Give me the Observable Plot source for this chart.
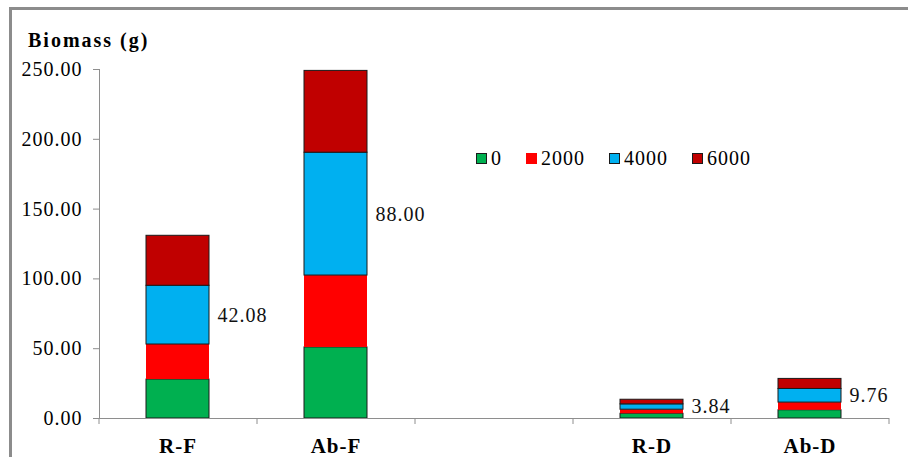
<!DOCTYPE html>
<html>
<head>
<meta charset="utf-8">
<script src="https://cdn.jsdelivr.net/npm/d3@7"></script>
<script src="https://cdn.jsdelivr.net/npm/@observablehq/plot@0.6"></script>
<style>
  html, body { margin: 0; padding: 0; background: #fff; overflow: hidden; }
  #wrap { position: relative; width: 908px; height: 457px; overflow: hidden; font-family: "Liberation Serif", serif; color: #000; }
  #border { position: absolute; left: 9px; top: 7px; width: 1200px; height: 1200px;
            border-left: 3px solid #8c8c8c; border-top: 3px solid #8c8c8c; }
  #chart { position: absolute; left: 0; top: 0; }
  #title { position: absolute; left: 28px; top: 30px; font-size: 20px; font-weight: bold;
           line-height: 1; letter-spacing: 2px; }
  #legend { position: absolute; left: 476px; top: 148px; display: flex; align-items: center;
            font-size: 20px; line-height: 20px; letter-spacing: 1px; }
  .item { display: flex; align-items: center; margin-right: 24px; }
  .sw { width: 11px; height: 11px; box-sizing: border-box; margin-right: 4px; }
</style>
</head>
<body>
<div id="wrap">
  <div id="border"></div>
  <div id="chart"></div>
  <div id="title">Biomass (g)</div>
  <div id="legend"></div>
</div>
<script>
// Categories along the x axis (one empty slot separates the F and D groups)
const categories = ["R-F", "Ab-F", "", "R-D", "Ab-D"];
const sites = ["R-F", "Ab-F", "R-D", "Ab-D"];

// Dose series (stack order bottom to top)
const doses = ["0", "2000", "4000", "6000"];
const dose0    = [27.9, 50.9, 3.4, 5.9];
const dose2000 = [25.1, 51.5, 2.9, 5.5];
const dose4000 = [42.08, 88.00, 3.84, 9.76];
const dose6000 = [35.8, 58.6, 3.3, 7.2];
const doseColors = ["#00b050", "#ff0000", "#00b0f0", "#c00000"];
const outlined = [true, false, true, true];

// Series whose values are printed beside the bars
const labelledDose = "4000";

// Y axis ticks
const yTicks = [0, 50, 100, 150, 200, 250];

const seriesValues = [dose0, dose2000, dose4000, dose6000];
const rows = sites.flatMap((site, i) =>
  doses.map((dose, j) => ({site, dose, value: seriesValues[j][i]}))
);

const axisColor = "#8e8e8e";
const W = 908, H = 457, ML = 99, MR = 19, MT = 69, MB = 39;
const step = (W - ML - MR) / categories.length;
const bandwidth = step * 0.4;

const chart = Plot.plot({
  width: W, height: H,
  marginLeft: ML, marginRight: MR, marginTop: MT, marginBottom: MB,
  style: {fontFamily: "'Liberation Serif', serif", fontSize: "20px", letterSpacing: "1px",
          background: "transparent", color: "#000"},
  x: {domain: categories, paddingInner: 0.6, paddingOuter: 0.3, axis: null},
  y: {domain: [0, 250], axis: null},
  color: {domain: doses, range: doseColors},
  marks: [
    Plot.barY(rows, {
      x: "site", y: "value", z: "dose", fill: "dose", order: doses,
      stroke: "#1a1a1a",
      strokeWidth: d => outlined[doses.indexOf(d.dose)] ? 1 : 0
    }),
    Plot.text(rows, Plot.stackY({
      x: "site", y: "value", z: "dose", order: doses,
      text: d => d.dose === labelledDose ? d.value.toFixed(2) : null,
      textAnchor: "start", dx: bandwidth / 2 + 8, fill: "#111"
    })),
    Plot.frame({anchor: "left", stroke: axisColor}),
    Plot.ruleY([0], {stroke: axisColor}),
    // tick marks on the category boundaries
    Plot.ruleX(categories, {x: d => d, dx: -step / 2, y1: 0, y2: 0, insetBottom: -6, stroke: axisColor}),
    Plot.ruleX(categories.slice(-1), {x: d => d, dx: step / 2, y1: 0, y2: 0, insetBottom: -6, stroke: axisColor}),
    Plot.axisY(yTicks, {
      tickSize: 6, tickPadding: 11, tickFormat: d3.format(".2f"),
      stroke: axisColor, fill: "#000", label: null
    }),
    Plot.axisX({
      tickSize: 0, tickPadding: 20, fontWeight: "bold", fontSize: 21,
      fill: "#000", label: null
    })
  ]
});
document.getElementById("chart").appendChild(chart);

// Legend
const legend = document.getElementById("legend");
doses.forEach((dose, i) => {
  const item = document.createElement("div");
  item.className = "item";
  const sw = document.createElement("span");
  sw.className = "sw";
  sw.style.background = doseColors[i];
  if (outlined[i]) sw.style.border = "1px solid #1a1a1a";
  const label = document.createElement("span");
  label.textContent = dose;
  item.appendChild(sw);
  item.appendChild(label);
  legend.appendChild(item);
});
</script>
</body>
</html>
